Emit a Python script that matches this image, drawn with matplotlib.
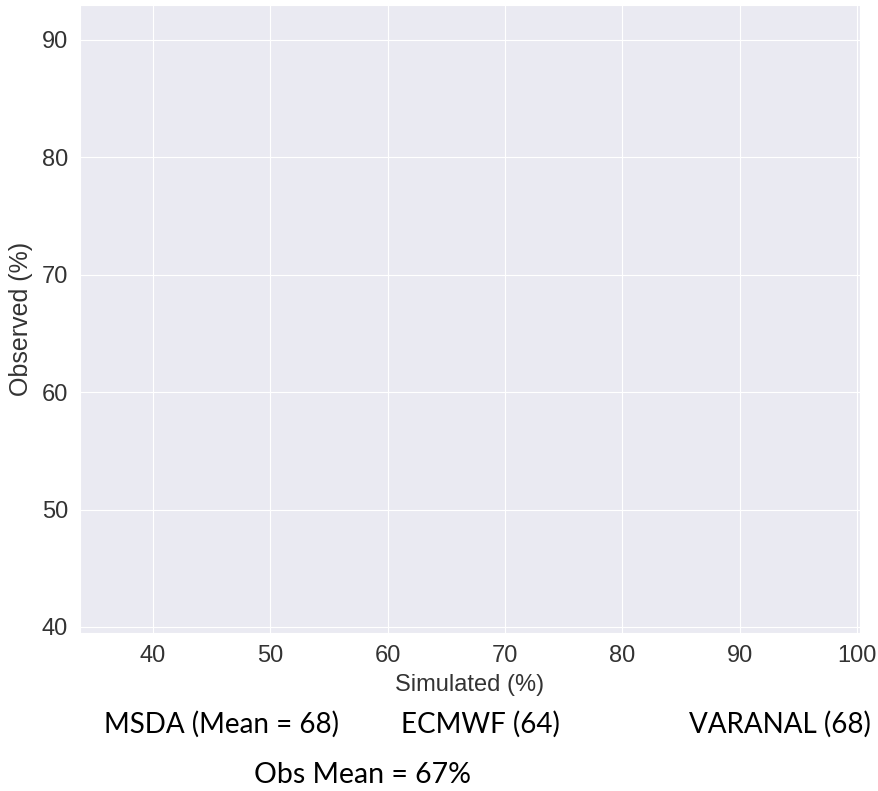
import matplotlib
matplotlib.use('Agg')
import matplotlib.pyplot as plt
import seaborn as sns

# axis settings
x_ticks = [40, 50, 60, 70, 80, 90, 100]
y_ticks = [40, 50, 60, 70, 80, 90]
x_label = 'Simulated (%)'
y_label = 'Observed (%)'
model_labels = ['MSDA (Mean = 68)', 'ECMWF (64)', 'VARANAL (68)']
obs_label = 'Obs Mean = 67%'

sns.set_style('darkgrid')
plt.rcParams['font.family'] = ['Liberation Sans', 'DejaVu Sans']

fig = plt.figure(figsize=(8.79, 7.91), dpi=100)
ax = fig.add_axes([0.091, 0.200, 0.887, 0.794])
ax.set_xlim(33.8, 100.2)
ax.set_ylim(39.5, 93)
ax.set_xticks(x_ticks)
ax.set_yticks(y_ticks)
ax.tick_params(labelsize=17, colors='#333333', pad=5)
ax.set_xlabel(x_label, fontsize=17, color='#333333', labelpad=5)
ax.set_ylabel(y_label, fontsize=18, color='#333333', labelpad=6)

# text under the chart
tfont = ['Lato', 'DejaVu Sans']
xs = [104, 401, 689]
for lab, xp in zip(model_labels, xs):
    fig.text(xp / 879, 1 - 724 / 791, lab, fontsize=20, family=tfont,
             ha='left', va='center', color='black')
fig.text(254 / 879, 1 - 775 / 791, obs_label, fontsize=20.5, family=tfont,
         ha='left', va='center', color='black')

plt.savefig('out.png', dpi=100)
